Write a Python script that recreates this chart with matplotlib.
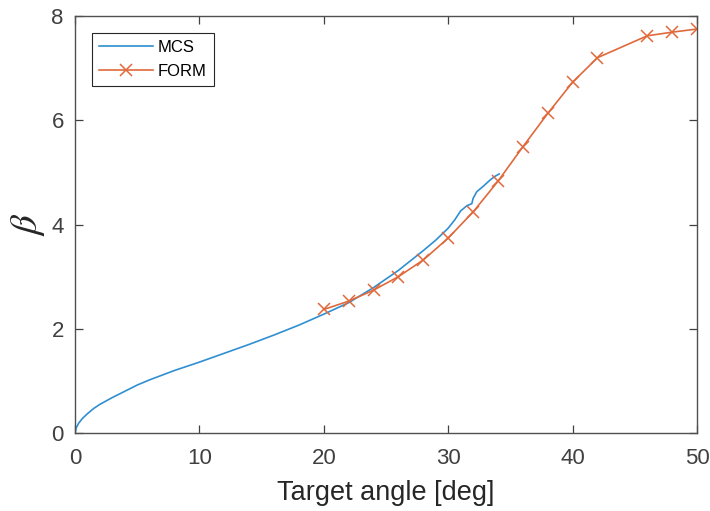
import matplotlib.pyplot as plt

plt.rcParams['font.family'] = ['Liberation Sans', 'DejaVu Sans']
plt.rcParams['mathtext.fontset'] = 'stix'

# Monte Carlo reliability index vs target angle
mcs_angle = [0, 0.1, 0.3, 0.6, 1.0, 1.5, 2.0, 3.0, 4.0, 5.0, 6.0, 7.0, 8.0, 10.0,
             12.0, 14.0, 16.0, 18.0, 20.0, 22.0, 24.0, 26.0, 28.0, 29.0, 30.0,
             30.5, 31.0, 31.5, 31.9, 32.0, 32.3, 32.8, 33.4, 33.8, 34.1]
mcs_beta = [0, 0.1, 0.19, 0.28, 0.37, 0.47, 0.55, 0.68, 0.80, 0.92, 1.02, 1.11,
            1.20, 1.36, 1.53, 1.70, 1.88, 2.07, 2.28, 2.50, 2.79, 3.12, 3.50,
            3.70, 3.93, 4.08, 4.26, 4.36, 4.40, 4.50, 4.63, 4.73, 4.86, 4.93, 4.97]

# FORM results
form_angle = [20, 22, 24, 26, 28, 30, 32, 34, 36, 38, 40, 42, 46, 48, 50]
form_beta = [2.37, 2.53, 2.74, 3.00, 3.32, 3.74, 4.24, 4.83, 5.49, 6.13, 6.73,
             7.20, 7.62, 7.69, 7.75]

fig = plt.figure(figsize=(7.1, 5.11), dpi=100)
ax = fig.add_axes([0.1056, 0.1526, 0.8761, 0.8161])

ax.plot(mcs_angle, mcs_beta, color='#2f8fd2', lw=1.2, label='MCS')
ax.plot(form_angle, form_beta, color='#e0693c', lw=1.2, marker='x',
        markersize=8, markeredgewidth=1.1, label='FORM')

ax.set_xlim(0, 50)
ax.set_ylim(0, 8)
ax.set_xticks([0, 10, 20, 30, 40, 50])
ax.set_yticks([0, 2, 4, 6, 8])
ax.tick_params(direction='in', top=True, right=True, length=5.5, width=0.9,
               labelsize=16, colors='#404040')
ax.tick_params(axis='x', pad=11)
ax.tick_params(axis='y', pad=8)
for s in ax.spines.values():
    s.set_color('#505050')
    s.set_linewidth(1.0)

ax.set_xlabel('Target angle [deg]', fontsize=19.5, color='#262626', labelpad=8)
ax.set_ylabel(r'$\beta$', fontsize=28, color='#262626', labelpad=3)

leg = ax.legend(loc='upper left', bbox_to_anchor=(0.027, 0.96), fontsize=12,
                fancybox=False, framealpha=1, edgecolor='#262626',
                handlelength=3.2, borderpad=0.45, labelspacing=0.5,
                handletextpad=0.3, borderaxespad=0)
leg.get_frame().set_linewidth(0.8)

fig.savefig('out.png', dpi=100)
